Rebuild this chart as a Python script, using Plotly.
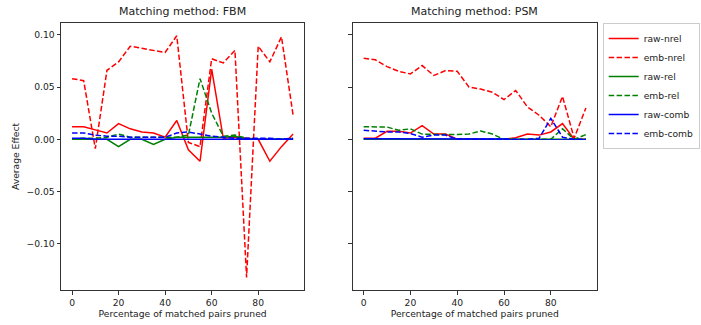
import plotly.graph_objects as go

x = [0, 5, 10, 15, 20, 25, 30, 35, 40, 45, 50, 55, 60, 65, 70, 75, 80, 85, 90, 95]

# FBM
fbm_raw_nrel = [0.012, 0.012, 0.009, 0.006, 0.015, 0.010, 0.007, 0.006, 0.002, 0.018, -0.010, -0.021, 0.067, 0.001, 0.002, 0.001, 0.000, -0.021, -0.007, 0.005]
fbm_emb_nrel = [0.058, 0.056, -0.009, 0.066, 0.074, 0.089, 0.087, 0.085, 0.083, 0.099, -0.003, -0.007, 0.077, 0.073, 0.085, -0.132, 0.089, 0.074, 0.098, 0.023]
fbm_raw_rel = [0.000, 0.000, 0.000, 0.000, -0.007, 0.000, 0.000, -0.005, 0.000, 0.002, 0.002, 0.002, 0.002, 0.002, 0.003, 0.000, 0.000, 0.000, 0.000, 0.000]
fbm_emb_rel = [0.000, 0.001, 0.001, 0.002, 0.005, 0.002, 0.002, 0.002, 0.002, 0.002, 0.004, 0.058, 0.025, 0.003, 0.004, 0.001, 0.000, 0.000, 0.000, 0.001]
fbm_raw_comb = [0.001, 0.001, 0.000, 0.000, 0.000, 0.000, 0.000, 0.000, 0.000, 0.000, 0.000, 0.000, 0.000, 0.000, 0.000, 0.000, 0.000, 0.000, 0.000, 0.000]
fbm_emb_comb = [0.006, 0.006, 0.004, 0.003, 0.003, 0.002, 0.002, 0.002, 0.002, 0.006, 0.007, 0.005, 0.003, 0.002, 0.001, 0.001, 0.001, 0.001, 0.000, 0.001]

# PSM
psm_raw_nrel = [0.001, 0.001, 0.0076, 0.0076, 0.006, 0.013, 0.005, 0.005, 0.000, 0.000, 0.000, 0.000, 0.000, 0.0015, 0.005, 0.004, 0.007, 0.015, 0.000, 0.000]
psm_emb_nrel = [0.0775, 0.076, 0.0695, 0.065, 0.0625, 0.0705, 0.061, 0.0657, 0.065, 0.050, 0.048, 0.045, 0.038, 0.0467, 0.031, 0.023, 0.012, 0.041, 0.001, 0.030]
psm_raw_rel = [0.000, 0.000, 0.000, 0.000, 0.000, 0.000, 0.000, 0.000, 0.000, 0.000, 0.000, 0.000, 0.000, 0.000, 0.000, 0.000, 0.000, 0.000, 0.000, 0.000]
psm_emb_rel = [0.012, 0.012, 0.0117, 0.0086, 0.010, 0.005, 0.0045, 0.0045, 0.0045, 0.005, 0.008, 0.005, 0.000, 0.000, 0.000, 0.000, 0.000, 0.010, 0.000, 0.0045]
psm_raw_comb = [0.0005, 0.0005, 0.0005, 0.0008, 0.0005, 0.0003, 0.0003, 0.0005, 0.0003, 0.0003, 0.0003, 0.0003, 0.0003, 0.0003, 0.0003, 0.0005, 0.001, 0.0005, 0.0003, 0.0003]
psm_emb_comb = [0.0086, 0.0076, 0.007, 0.007, 0.0055, 0.002, 0.004, 0.004, 0.000, 0.000, 0.000, 0.000, 0.000, 0.000, 0.000, 0.001, 0.020, 0.002, 0.000, 0.000]

series_names = ["raw-nrel", "emb-nrel", "raw-rel", "emb-rel", "raw-comb", "emb-comb"]
colors = ["#ff0000", "#ff0000", "#008000", "#008000", "#0000ff", "#0000ff"]
dashes = ["solid", "5.5px,2.4px", "solid", "5.5px,2.4px", "solid", "5.5px,2.4px"]

fbm = [fbm_raw_nrel, fbm_emb_nrel, fbm_raw_rel, fbm_emb_rel, fbm_raw_comb, fbm_emb_comb]
psm = [psm_raw_nrel, psm_emb_nrel, psm_raw_rel, psm_emb_rel, psm_raw_comb, psm_emb_comb]

fig = go.Figure()
for i, name in enumerate(series_names):
    fig.add_trace(go.Scatter(x=x, y=fbm[i], mode="lines", name=name,
                             line=dict(color=colors[i], dash=dashes[i], width=1.5),
                             xaxis="x", yaxis="y", legendgroup=name, showlegend=True))
for i, name in enumerate(series_names):
    fig.add_trace(go.Scatter(x=x, y=psm[i], mode="lines", name=name,
                             line=dict(color=colors[i], dash=dashes[i], width=1.5),
                             xaxis="x2", yaxis="y2", legendgroup=name, showlegend=False))

font = "DejaVu Sans"
fs = 9.2
W, H = 701, 325
ml, mt = 61, 23
mr = W - 597.3
mb = H - 290
pw = W - ml - mr

def px(xpage):
    return (xpage - ml) / pw

axis_common = dict(showline=True, linecolor="#333333", linewidth=1, mirror=True,
                   ticks="outside", ticklen=3.5, tickwidth=1, tickcolor="#333333",
                   showgrid=False, zeroline=False,
                   tickfont=dict(family=font, size=fs, color="#222222"))

yr = [-0.1441, 0.1112]
xr = [-4.75, 99.75]

fig.update_layout(
    width=W, height=H,
    margin=dict(l=ml, r=mr, t=mt, b=mb, pad=0, autoexpand=False),
    plot_bgcolor="white", paper_bgcolor="white",
    font=dict(family=font, size=fs, color="#222222"),
    xaxis=dict(domain=[0, px(304.3)], range=xr, tickvals=[0, 20, 40, 60, 80],
               title=dict(text="Percentage of matched pairs pruned", font=dict(size=fs), standoff=4), **axis_common),
    xaxis2=dict(domain=[px(352.7), 1], range=xr, tickvals=[0, 20, 40, 60, 80],
                title=dict(text="Percentage of matched pairs pruned", font=dict(size=fs), standoff=4), **axis_common),
    yaxis=dict(range=yr, tickvals=[-0.10, -0.05, 0.0, 0.05, 0.10], tickformat=".2f",
               title=dict(text="Average Effect", font=dict(size=fs), standoff=5), **axis_common),
    yaxis2=dict(range=yr, anchor="x2", tickvals=[-0.10, -0.05, 0.0, 0.05, 0.10], showticklabels=False, **axis_common),
    legend=dict(x=px(603), y=1.0, xanchor="left", yanchor="top",
                bordercolor="#cccccc", borderwidth=1, bgcolor="white",
                font=dict(family=font, size=fs), tracegroupgap=0, itemwidth=30),
    showlegend=True,
    annotations=[
        dict(text="Matching method: FBM", x=px(304.3) / 2, y=1, xref="paper", yref="paper",
             xanchor="center", yanchor="bottom", yshift=3, showarrow=False, font=dict(family=font, size=11, color="#222222")),
        dict(text="Matching method: PSM", x=(px(352.7) + 1) / 2, y=1, xref="paper", yref="paper",
             xanchor="center", yanchor="bottom", yshift=3, showarrow=False, font=dict(family=font, size=11, color="#222222")),
    ],
)

fig.write_html("out.html", config={"displayModeBar": False},
               post_script="document.body.style.margin='0';")
